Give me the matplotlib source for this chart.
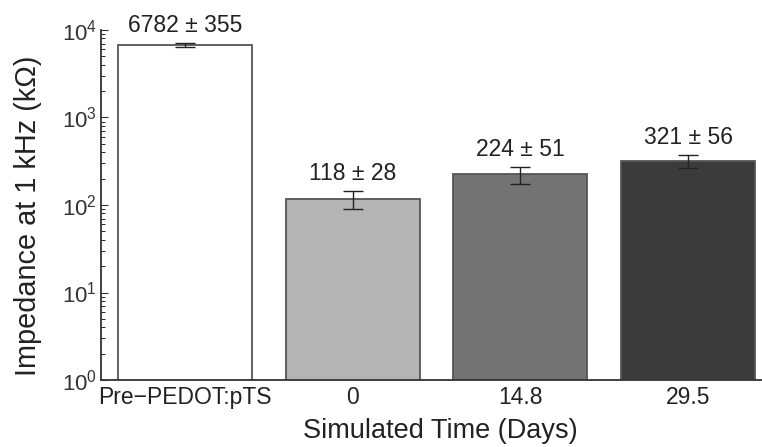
import matplotlib
matplotlib.use("Agg")
import matplotlib.pyplot as plt
import numpy as np
from matplotlib.ticker import LogLocator

plt.rcParams['font.family'] = ['Liberation Sans', 'DejaVu Sans']
plt.rcParams['mathtext.fontset'] = 'custom'
plt.rcParams['mathtext.rm'] = 'Liberation Sans'
plt.rcParams['mathtext.it'] = 'Liberation Sans'

categories = ["Pre\u2212PEDOT:pTS", "0", "14.8", "29.5"]
means = [6782, 118, 224, 321]
errors = [355, 28, 51, 56]
labels = ["6782 \u00b1 355", "118 \u00b1 28", "224 \u00b1 51", "321 \u00b1 56"]
colors = ["#ffffff", "#b4b4b4", "#737373", "#3b3b3b"]

fig = plt.figure(figsize=(7.62, 4.47), dpi=100)
ax = fig.add_axes([101/762, 1-380/447, (772-101)/762, (380-30)/447])
x = np.arange(len(categories))
ax.bar(x, means, width=0.8, color=colors, edgecolor="#555555", linewidth=1.3, zorder=2)
ax.errorbar(x, means, yerr=errors, fmt='none', ecolor='#222222', elinewidth=1.0, capsize=7, capthick=1.0, zorder=3)
for xi, m, e, lab in zip(x, means, errors, labels):
    ax.annotate(lab, (xi, m + e), xytext=(0, 4), textcoords='offset points',
                ha='center', va='bottom', fontsize=16.5, color='#222222')

ax.set_yscale('log')
ax.set_ylim(1, 1e4)
ax.set_xlim(-0.5, 3.5)
ax.set_xticks(x)
ax.set_xticklabels(categories, fontsize=16.5, color='#222222')
ax.yaxis.set_major_locator(LogLocator(base=10, numticks=10))
ax.yaxis.set_minor_locator(LogLocator(base=10, subs=np.arange(2, 10), numticks=10))
ax.tick_params(axis='y', which='major', direction='in', length=5, labelsize=16, colors='#333333', pad=3)
ax.tick_params(axis='y', which='minor', direction='in', length=3)
ax.tick_params(axis='x', length=0, pad=4)
for s in ['top', 'right']:
    ax.spines[s].set_visible(False)
for s in ['left', 'bottom']:
    ax.spines[s].set_color('#333333')
    ax.spines[s].set_linewidth(1.3)
ax.set_ylabel("Impedance at 1 kHz (k\u03a9)", fontsize=20.8, color='#222222')
ax.yaxis.set_label_coords(-(101-28)/671, (380-216)/350)
ax.set_xlabel("Simulated Time (Days)", fontsize=19.5, color='#222222')
ax.xaxis.set_label_coords((440-101)/671, -(431-380)/350, transform=ax.transAxes)
ax.xaxis.label.set_va('center')
ax.yaxis.label.set_va('center')

fig.savefig("out.png", dpi=100)
